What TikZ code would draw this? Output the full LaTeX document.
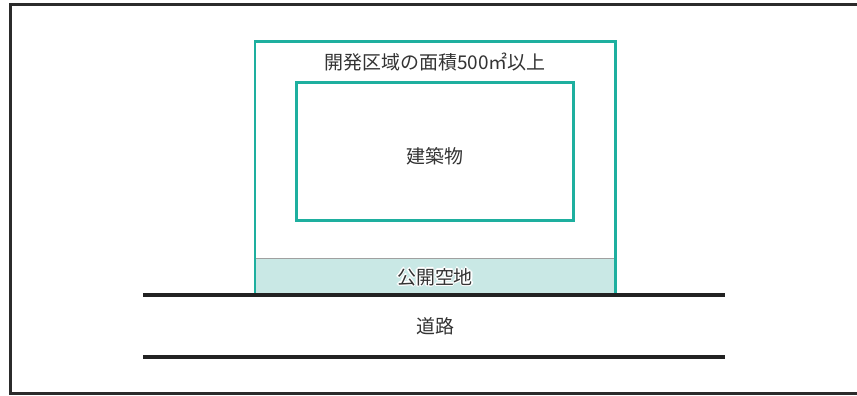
\documentclass[tikz,border=0pt]{standalone}
\usepackage{fontspec}
\setmainfont{Noto Sans CJK JP}
\usepackage{xcolor}

\definecolor{frameline}{HTML}{2B2B2B}
\definecolor{siteline}{HTML}{1EAF9F}
\definecolor{openfill}{HTML}{C9E8E5}
\definecolor{openline}{HTML}{A0A0A0}
\definecolor{roadline}{HTML}{222222}
\definecolor{labeltext}{HTML}{333333}

\begin{document}
\begin{tikzpicture}[x=0.02cm,y=-0.02cm,
    font=\fontsize{10.8pt}{13pt}\selectfont, text=labeltext,
    siteedge/.style={draw=siteline, line width=1.2pt},
    roadedge/.style={draw=roadline, line width=2pt}]
        \useasboundingbox (0,0) rectangle (857,395);

        % Marco exterior (el lado derecho queda fuera de la imagen)
        \draw[frameline, line width=1.2pt] (870,4.5) -- (10.5,4.5) -- (10.5,393.5) -- (870,393.5);

        % Espacio abierto al publico
        \fill[openfill] (255,258.5) rectangle (615.5,295);
        \draw[openline, line width=0.6pt] (255,258.5) -- (615.5,258.5);

        % Area de desarrollo
        \draw[siteedge] (255,295) -- (255,41.5) -- (615.5,41.5) -- (615.5,295);

        % Edificio
        \draw[siteedge] (296.5,82.5) rectangle (573.5,220.5);

        % Calle
        \draw[roadedge] (143,295) -- (725,295);
        \draw[roadedge] (143,357) -- (725,357);

        % Etiquetas
        \node (area) at (435,62) {開発区域の面積500㎡以上};
        \node (bldg) at (435,156) {建築物};
        \foreach \dx/\dy in {-1.2/0,1.2/0,0/-1.2,0/1.2,-0.9/-0.9,0.9/-0.9,-0.9/0.9,0.9/0.9}
            \node[text=white] at (435+\dx,277+\dy) {公開空地};
        \node (open) at (435,277) {公開空地};
        \node (road) at (435,326) {道路};
    \end{tikzpicture}
\end{document}
